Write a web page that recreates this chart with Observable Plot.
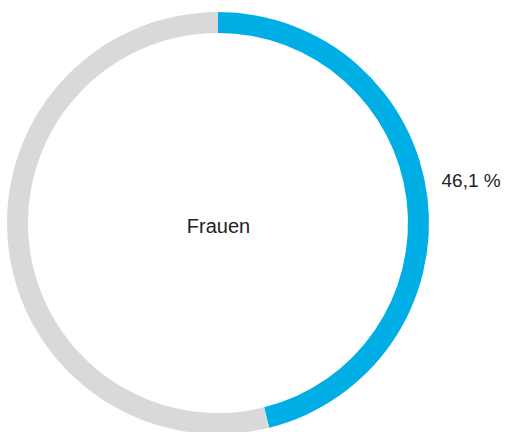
<!DOCTYPE html>
<html>
<head>
<meta charset="utf-8">
<script src="https://cdn.jsdelivr.net/npm/d3@7"></script>
<script src="https://cdn.jsdelivr.net/npm/@observablehq/plot@0.6"></script>
<style>
  html, body { margin: 0; padding: 0; background: #fff; }
  #chart svg { display: block; }
</style>
</head>
<body>
<div id="chart"></div>
<script>
const categories = ["Frauen", "Männer"];
const shares = [46.1, 53.9];
const colors = ["#00aee6", "#d9d9d9"];
const centerLabel = "Frauen";
const valueLabel = "46,1 %";

const data = categories.map((c, i) => ({ cat: c, value: shares[i] }));

const ring = (index, scales, values, dims) => {
  const cx = dims.marginLeft + (dims.width - dims.marginLeft - dims.marginRight) / 2;
  const cy = dims.marginTop + (dims.height - dims.marginTop - dims.marginBottom) / 2;
  const outer = 211, inner = 190;
  const arc = d3.arc().innerRadius(inner).outerRadius(outer);
  const g = d3.create("svg:g").attr("transform", `translate(${cx},${cy})`);
  g.selectAll("path")
    .data(index)
    .join("path")
    .attr("d", i => arc({ startAngle: values.x1[i], endAngle: values.x2[i] }))
    .attr("fill", i => values.fill[i]);
  return g.node();
};

const chart = Plot.plot({
  width: 508,
  height: 432,
  marginLeft: 0,
  marginRight: 72,
  marginTop: 14,
  marginBottom: 0,
  x: { domain: [0, 100], range: [0, 2 * Math.PI], axis: null },
  y: { axis: null },
  color: { domain: categories, range: colors },
  style: { fontFamily: "'Liberation Sans', Arial, sans-serif", background: "#fff" },
  marks: [
    Plot.barX(data, Plot.stackX({ x: "value", fill: "cat", order: null, render: ring })),
    Plot.text([centerLabel], { frameAnchor: "middle", text: d => d, fontSize: 20, fill: "#222", dy: 3 }),
    Plot.text([valueLabel], { frameAnchor: "right", text: d => d, fontSize: 19, fill: "#222", textAnchor: "start", dx: 5, dy: -43 })
  ]
});
document.getElementById("chart").appendChild(chart);
</script>
</body>
</html>
